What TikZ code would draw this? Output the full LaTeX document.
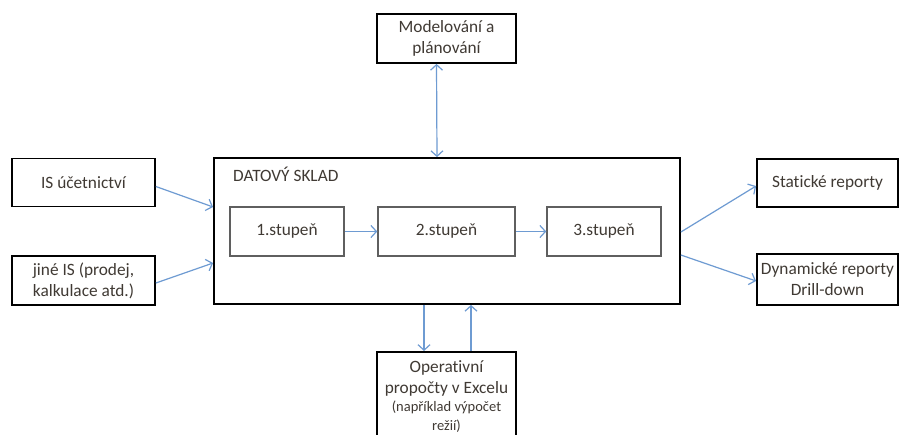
\documentclass[tikz,border=0pt]{standalone}
\usepackage{fontspec}
\setmainfont{Carlito}[Ligatures=NoCommon]
\usetikzlibrary{arrows.meta,calc}
\definecolor{arrblue}{RGB}{110,155,210}
\definecolor{txt}{RGB}{64,58,52}
\definecolor{stageline}{RGB}{95,95,95}
\begin{document}
\begin{tikzpicture}[x=1pt,y=-1pt,
  box/.style={draw=black,line width=1.8pt,inner sep=0pt,align=center,text=txt,font=\fontsize{17.3}{21}\selectfont},
  stagebox/.style={draw=stageline,line width=1.5pt,inner sep=0pt,align=center,text=txt,font=\fontsize{17.3}{21}\selectfont,minimum height=49pt},
  lbl/.style={inner sep=0pt,text=txt,font=\fontsize{17.3}{21}\selectfont},
  conn/.style={draw=arrblue,line width=1.2pt,-{Straight Barb[length=5.5pt,width=12pt]}},
  biconn/.style={draw=arrblue,line width=1.2pt,{Straight Barb[length=5.5pt,width=12pt]}-{Straight Barb[length=5.5pt,width=12pt]}}]
\useasboundingbox (0,0) rectangle (900,434);
\fill[white] (0,0) rectangle (900,434);
\clip (0,0) rectangle (900,434);

\node[box,minimum width=139pt,minimum height=49pt] (mod) at (446.5,38.5) {Modelování a\\plánování};
\node[box,minimum width=466pt,minimum height=146pt] (dw) at (447,231) {};
\node[lbl,anchor=west] (lab) at (233,174) {DATOVÝ SKLAD};
\node[stagebox,minimum width=114pt] (s1) at (287,231.5) {1.stupeň};
\node[stagebox,minimum width=137pt] (s2) at (446.5,231.5) {2.stupeň};
\node[stagebox,minimum width=114pt] (s3) at (604,231.5) {3.stupeň};

\node[box,minimum width=143pt,minimum height=48pt] (is) at (83.5,182.5) {IS účetnictví};
\node[box,minimum width=143pt,minimum height=49pt] (jine) at (83.5,280.5) {jiné IS (prodej,\\kalkulace atd.)};
\node[box,minimum width=141pt,minimum height=48pt] (stat) at (827.5,183) {Statické reporty};
\node[box,minimum width=141pt,minimum height=51pt] (dyn) at (827.5,279.5) {Dynamické reporty\\Drill-down};
\node[box,minimum width=139pt,inner ysep=9pt,anchor=north] (op) at (446.5,351)
  {Operativní\\propočty v Excelu\\[-3pt]{\fontsize{14.5}{18}\selectfont (například výpočet}\\[-2pt]{\fontsize{14.5}{18}\selectfont režií)}};

\draw[conn] ([yshift=-4pt]is.east) -- ([yshift=24pt]dw.west);
\draw[conn] ([yshift=-2.5pt]jine.east) -- ([yshift=-32pt]dw.west);
\draw[conn] ([yshift=-1pt]dw.east) -- ([yshift=-3pt]stat.west);
\draw[conn] ([yshift=-24pt]dw.east) -- ([yshift=-1.5pt]dyn.west);
\draw[biconn] ([xshift=-10pt]mod.south) -- ([xshift=-10pt]dw.north);
\draw[conn] ([xshift=-23pt]dw.south) -- ([xshift=-22.5pt]op.north);
\draw[conn] ([xshift=24.5pt]op.north) -- ([xshift=24pt]dw.south);
\draw[conn] (s1) -- (s2);
\draw[conn] (s2) -- (s3);
\end{tikzpicture}
\end{document}
